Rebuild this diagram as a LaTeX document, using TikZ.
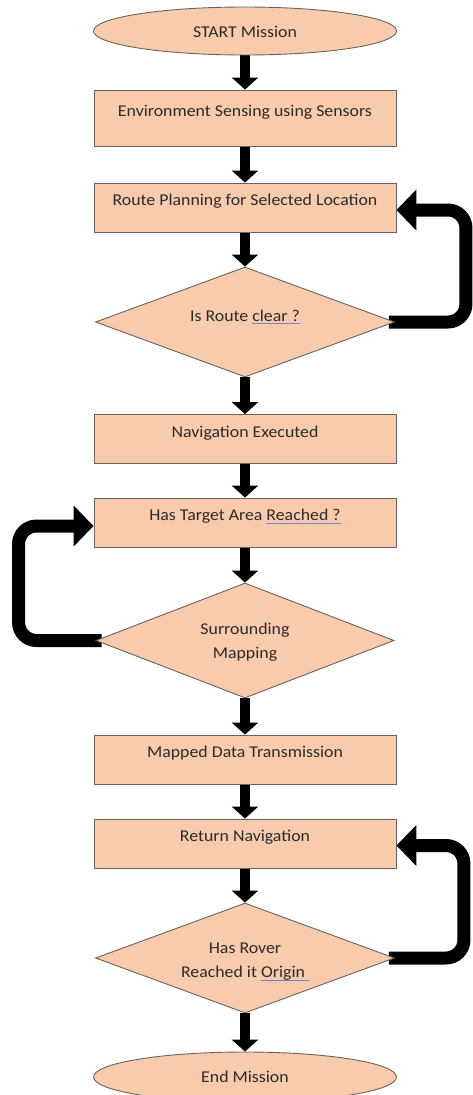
\documentclass[tikz,border=0pt]{standalone}
\usepackage{fontspec}
\setmainfont{Carlito}[FakeStretch=1.08]
\usetikzlibrary{shapes.geometric,arrows.meta}
\definecolor{peach}{HTML}{F8CBAD}
\definecolor{edgec}{HTML}{6B625C}
\definecolor{txtc}{HTML}{2A2A2A}
\definecolor{spellc}{HTML}{6F80D8}
\newcommand{\spellu}[1]{\setbox0\hbox{#1}\rlap{\color{spellc}\rule[-2.6pt]{\wd0}{0.9pt}}\box0}
\pgfdeclarelayer{bg}\pgfsetlayers{bg,main}
\begin{document}
\begin{tikzpicture}[x=1pt,y=-1pt,
  shp/.style={fill=peach,draw=edgec,line width=0.9pt,inner sep=0pt},
  boxn/.style={shp,rectangle,minimum width=302pt,minimum height=49pt},
  ovaln/.style={shp,ellipse,minimum width=303pt,minimum height=48pt},
  decn/.style={shp,diamond,minimum width=299pt,minimum height=110pt},
  lbl/.style={font=\fontsize{16.5}{24}\selectfont,text=txtc,align=center,inner sep=0pt},
  flow/.style={line width=10pt,-{Triangle[width=26pt,length=12pt]}},
  back/.style={line width=13pt,rounded corners=18pt,-{Triangle[width=40pt,length=20pt]}}]
\useasboundingbox (0,0) rectangle (472,1095);

% shapes
\node[ovaln] (s) at (245,31) {};
\node[lbl] (ts) at ([yshift=-1pt]s.center) {START Mission};

\node[boxn,minimum height=56pt] (b1) at (245,118) {};
\node[lbl] (t1) at ([yshift=6pt]b1.center) {Environment Sensing using Sensors};

\node[boxn] (b2) at (245,207.5) {};
\node[lbl] (t2) at ([yshift=6pt]b2.center) {Route Planning for Selected Location};

\node[decn] (d1) at (245,322) {};
\node[lbl] (td1) at ([yshift=5pt]d1.center) {Is Route \spellu{clear ?}};

\node[boxn] (b3) at (245,439) {};
\node[lbl] (t3) at ([yshift=6pt]b3.center) {Navigation Executed};

\node[boxn] (b4) at (245,522.5) {};
\node[lbl] (t4) at ([yshift=6pt]b4.center) {Has Target Area \spellu{Reached ?}};

\node[decn,minimum height=115pt,minimum width=298pt] (d2) at (245,640.5) {};
\node[lbl] (td2) at ([yshift=-2pt]d2.center) {Surrounding\\Mapping};

\node[boxn] (b5) at (245,759.5) {};
\node[lbl] (t5) at ([yshift=6pt]b5.center) {Mapped Data Transmission};

\node[boxn] (b6) at (245,843.5) {};
\node[lbl] (t6) at ([yshift=6pt]b6.center) {Return Navigation};

\node[decn] (d3) at (245,958) {};
\node[lbl] (td3) at ([yshift=-4pt]d3.center) {Has Rover\\Reached it \spellu{Origin }};

\node[ovaln,minimum height=50pt] (e) at (245,1077) {};
\node[lbl] (te) at (e.center) {End Mission};

% connectors
\begin{pgfonlayer}{bg}
\draw[flow] (s.south) -- (b1.north);
\draw[flow] (b1.south) -- (b2.north);
\draw[flow] (b2.south) -- (d1.north);
\draw[flow] (d1.south) -- (b3.north);
\draw[flow] (b3.south) -- (b4.north);
\draw[flow] (b4.south) -- (d2.north);
\draw[flow] (d2.south) -- (b5.north);
\draw[flow] (b5.south) -- (b6.north);
\draw[flow] (b6.south) -- (d3.north);
\draw[flow] (d3.south) -- (e.north);
\draw[back] ([xshift=-6pt]d1.east) -- ++(77,0) |- ([yshift=-2.5pt]b2.east);
\draw[back] ([xshift=6pt]d2.west) -- ++(-83,0) |- ([yshift=-3.5pt]b4.west);
\draw[back] ([xshift=-6pt]d3.east) -- ++(75,0) |- ([yshift=-2pt]b6.east);
\end{pgfonlayer}
\end{tikzpicture}
\end{document}
